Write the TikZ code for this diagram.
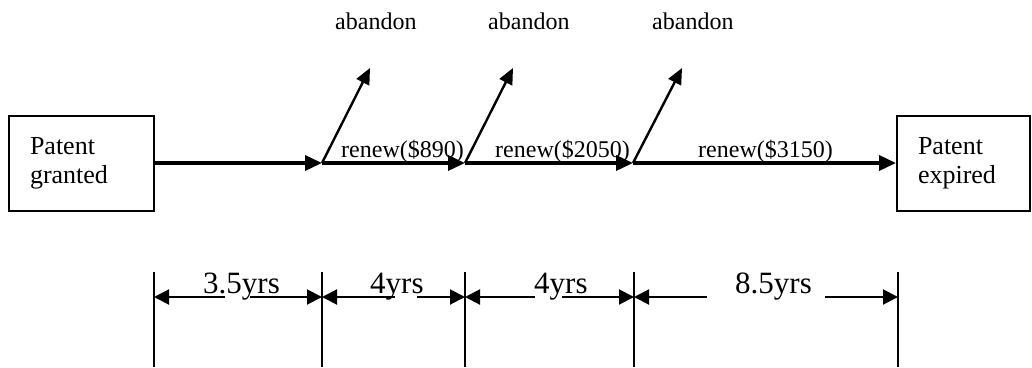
\documentclass[tikz,border=0pt]{standalone}
\usepackage{fontspec}
\setmainfont{Liberation Serif}
\usetikzlibrary{arrows.meta}
\begin{document}
\begin{tikzpicture}[x=1pt,y=-1pt,
  statebox/.style={draw, line width=2pt, minimum height=95pt, align=left,
    font=\fontsize{26}{29}\selectfont, inner xsep=21pt, inner ysep=0pt},
  flow/.style={line width=3.6pt, -{Triangle[length=17pt,width=15pt]}},
  quit/.style={line width=2.4pt, -{Triangle[length=16pt,width=14pt]}},
  dimline/.style={line width=2pt, -{Triangle[length=15pt,width=15pt]}},
  tick/.style={line width=1.6pt},
  small/.style={font=\fontsize{24}{28}\selectfont, inner sep=0pt, anchor=base west},
  big/.style={font=\fontsize{31}{36}\selectfont, inner sep=0pt, anchor=base west}]
\useasboundingbox (0,0) rectangle (1032,367);

% start and end states
\node[statebox, text width=103pt] (granted) at (81.5,163.5) {Patent\\granted};
\node[statebox, text width=91pt] (expired) at (963.5,163.5) {Patent\\expired};

% renewal decision points on the timeline
\coordinate (j1) at (322,163);
\coordinate (j2) at (465,163);
\coordinate (j3) at (633,163);

\draw[flow] (granted.east |- j1) -- (j1);
\draw[flow] (j1) -- (j2);
\draw[flow] (j2) -- (j3);
\draw[flow] (j3) -- (expired.west |- j3);

% renewal fees
\node[small] (r1) at (341,157) {renew(\$890)};
\node[small] (r2) at (495,157) {renew(\$2050)};
\node[small] (r3) at (698,157) {renew(\$3150)};

% abandon branches
\coordinate (q1) at (370,68);
\coordinate (q2) at (513,68);
\coordinate (q3) at (682,68);
\draw[quit] (j1) -- (q1);
\draw[quit] (j2) -- (q2);
\draw[quit] (j3) -- (q3);
\node[small] (a1) at (335,29) {abandon};
\node[small] (a2) at (488,29) {abandon};
\node[small] (a3) at (652,29) {abandon};

% duration ticks
\foreach \n/\x in {t0/154,t1/322,t2/465,t3/634,t4/898}{
  \coordinate (\n top) at (\x,272);
  \coordinate (\n bot) at (\x,367);
  \coordinate (\n) at (\x,297);
  \draw[tick] (\n top) -- (\n bot);
}

% duration labels and dimension arrows
\node[big] (d1) at (203,293) {3.5yrs};
\node[big] (d2) at (370,293) {4yrs};
\node[big] (d3) at (534,293) {4yrs};
\node[big] (d4) at (735,293) {8.5yrs};

\coordinate (g1l) at (225,297); \coordinate (g1r) at (250,297);
\coordinate (g2l) at (395,297); \coordinate (g2r) at (417,297);
\coordinate (g3l) at (535,297); \coordinate (g3r) at (562,297);
\coordinate (g4l) at (707,297); \coordinate (g4r) at (825,297);

\draw[dimline] (g1l) -- (t0);
\draw[dimline] (g1r) -- (t1);
\draw[dimline] (g2l) -- (t1);
\draw[dimline] (g2r) -- (t2);
\draw[dimline] (g3l) -- (t2);
\draw[dimline] (g3r) -- (t3);
\draw[dimline] (g4l) -- (t3);
\draw[dimline] (g4r) -- (t4);
\end{tikzpicture}
\end{document}
